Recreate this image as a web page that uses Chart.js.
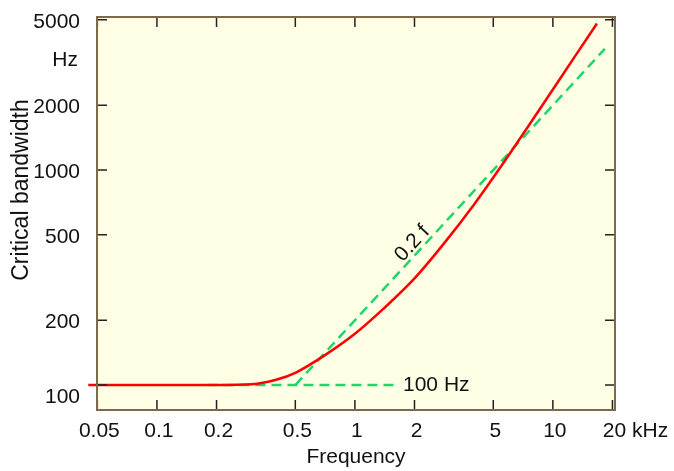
<!DOCTYPE html>
<html>
<head>
<meta charset="utf-8">
<script src="https://cdn.jsdelivr.net/npm/chart.js@4"></script>
<style>
    body { margin: 0; background: #fff; }
    #wrap { width: 674px; height: 471px; }
</style>
</head>
<body>
<div id="wrap"><canvas id="cbChart" width="674" height="471"></canvas></div>
<script>
// axis ticks
const xTicks = [0.05, 0.1, 0.2, 0.5, 1, 2, 5, 10, 20]
const xTickLabels = ['0.05', '0.1', '0.2', '0.5', '1', '2', '5', '10', '20 kHz']
const yTicks = [100, 200, 500, 1000, 2000, 5000]
const yTickLabels = ['100', '200', '500', '1000', '2000', '5000']
const yUnitLabel = 'Hz'
const yUnitValue = 3250

// critical bandwidth curve
const bandFreq = [0.045, 0.1, 0.2, 0.3, 0.4, 0.5, 0.7, 1, 1.4, 2, 2.8, 4, 5.5, 7.5, 10, 13, 16.7]
const bandWidth = [100, 100, 100, 100.8, 105.8, 114, 137, 173, 227, 313, 452, 692, 1047, 1595, 2368, 3405, 4800]

// asymptotes
const lowFreq = [0.18, 1.63]
const lowWidth = [100, 100]
const highFreq = [0.5, 18.3]
const highWidth = [100, 3660]

const lowLabel = '100 Hz'
const highLabel = '0.2 f'

const toPoints = (xs, ys) => xs.map((x, i) => ({ x, y: ys[i] }))

const FAMILY = '"Liberation Sans", Arial, sans-serif'
const FONT = '21px ' + FAMILY

const framePlugin = {
    id: 'frame',
    beforeDatasetsDraw(chart) {
        const { ctx, chartArea: a } = chart
        ctx.save()
        ctx.fillStyle = '#ffffe6'
        ctx.fillRect(a.left, a.top, a.right - a.left, a.bottom - a.top)
        ctx.restore()
    },
    afterDraw(chart) {
        const { ctx, chartArea: a } = chart
        const xs = chart.scales.x
        const ys = chart.scales.y
        ctx.save()

        // tick marks, inside on all four sides
        ctx.strokeStyle = '#222'
        ctx.lineWidth = 1.5
        const len = 10
        xTicks.forEach((v) => {
            const px = xs.getPixelForValue(v)
            ctx.beginPath()
            ctx.moveTo(px, a.bottom)
            ctx.lineTo(px, a.bottom - len)
            ctx.moveTo(px, a.top)
            ctx.lineTo(px, a.top + len)
            ctx.stroke()
        })
        yTicks.forEach((v) => {
            const py = ys.getPixelForValue(v)
            ctx.beginPath()
            ctx.moveTo(a.left, py)
            ctx.lineTo(a.left + len, py)
            ctx.moveTo(a.right, py)
            ctx.lineTo(a.right - len, py)
            ctx.stroke()
        })

        // frame
        ctx.strokeStyle = '#7d6a4c'
        ctx.lineWidth = 2
        ctx.strokeRect(a.left, a.top, a.right - a.left, a.bottom - a.top)

        // tick labels
        ctx.fillStyle = '#111'
        ctx.font = FONT
        ctx.textBaseline = 'middle'
        xTicks.forEach((v, i) => {
            const px = xs.getPixelForValue(v) + 2
            const label = xTickLabels[i]
            if (label.includes(' ')) {
                const first = label.split(' ')[0]
                ctx.textAlign = 'left'
                ctx.fillText(label, px - ctx.measureText(first).width / 2, 431)
            } else {
                ctx.textAlign = 'center'
                ctx.fillText(label, px, 431)
            }
        })
        ctx.textAlign = 'right'
        yTicks.forEach((v, i) => {
            let py = ys.getPixelForValue(v)
            if (i === 0) py += 10
            ctx.fillText(yTickLabels[i], a.left - 17, py + 2)
        })
        ctx.fillText(yUnitLabel, a.left - 19, ys.getPixelForValue(yUnitValue))

        // axis titles
        ctx.textAlign = 'center'
        ctx.fillText('Frequency', (a.left + a.right) / 2, 457)
        ctx.save()
        ctx.font = '23px ' + FAMILY
        ctx.translate(22, 190)
        ctx.rotate(-Math.PI / 2)
        ctx.fillText('Critical bandwidth', 0, 0)
        ctx.restore()

        // line annotations
        ctx.textAlign = 'left'
        ctx.fillText(lowLabel, xs.getPixelForValue(1.75), ys.getPixelForValue(100))
        const x0 = xs.getPixelForValue(highFreq[0])
        const y0 = ys.getPixelForValue(highWidth[0])
        const x1 = xs.getPixelForValue(highFreq[1])
        const y1 = ys.getPixelForValue(highWidth[1])
        ctx.save()
        ctx.translate(xs.getPixelForValue(1.95), ys.getPixelForValue(455))
        ctx.rotate(Math.atan2(y1 - y0, x1 - x0))
        ctx.textAlign = 'center'
        ctx.fillText(highLabel, 0, 0)
        ctx.restore()

        ctx.restore()
    }
}

const cbChart = new Chart(document.getElementById('cbChart'), {
    type: 'line',
    data: {
        datasets: [
            {
                data: toPoints(bandFreq, bandWidth),
                borderColor: '#ff0000',
                borderWidth: 2.5,
                pointRadius: 0,
                cubicInterpolationMode: 'monotone',
                clip: false
            },
            {
                data: toPoints(lowFreq, lowWidth),
                borderColor: '#1fd66a',
                borderWidth: 2.5,
                borderDash: [10, 6],
                pointRadius: 0
            },
            {
                data: toPoints(highFreq, highWidth),
                borderColor: '#1fd66a',
                borderWidth: 2.5,
                borderDash: [10, 6],
                pointRadius: 0
            }
        ]
    },
    options: {
        responsive: false,
        animation: false,
        layout: {
            padding: { left: 97, right: 59, top: 17, bottom: 61 }
        },
        plugins: {
            legend: { display: false },
            tooltip: { enabled: false }
        },
        scales: {
            x: { type: 'logarithmic', min: 0.0498, max: 20.6, display: false },
            y: { type: 'logarithmic', min: 76.5, max: 5150, display: false }
        }
    },
    plugins: [framePlugin]
})
</script>
</body>
</html>
